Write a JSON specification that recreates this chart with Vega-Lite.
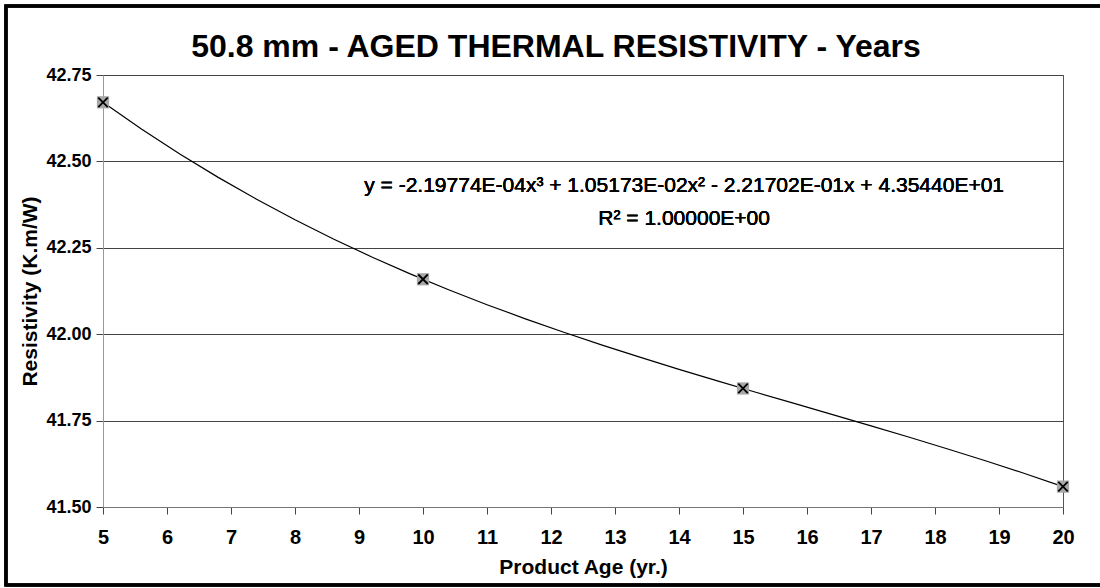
{
  "$schema": "https://vega.github.io/schema/vega-lite/v6.json",
  "autosize": {"type": "none"},
  "width": 960,
  "height": 432,
  "padding": {"left": 103, "top": 75, "right": 37, "bottom": 81},
  "background": "white",
  "config": {
    "font": "Liberation Sans",
    "view": {"stroke": "#555", "strokeWidth": 1}
  },
  "title": {
    "text": "50.8 mm - AGED THERMAL RESISTIVITY - Years",
    "font": "Liberation Sans",
    "fontSize": 32,
    "fontWeight": "bold",
    "color": "black",
    "anchor": "middle",
    "dx": -27,
    "offset": -60
  },
  "data": {
    "values": [
      {"age": 5, "r": 42.671},
      {"age": 10, "r": 42.159},
      {"age": 15, "r": 41.843},
      {"age": 20, "r": 41.559}
    ]
  },
  "encoding": {
    "x": {
      "field": "age",
      "type": "quantitative",
      "scale": {"domain": [5, 20], "nice": false, "zero": false},
      "axis": {
        "title": "Product Age (yr.)",
        "values": [5, 6, 7, 8, 9, 10, 11, 12, 13, 14, 15, 16, 17, 18, 19, 20],
        "format": "d",
        "grid": false,
        "domainColor": "#777",
        "tickColor": "#444",
        "tickSize": 7,
        "labelFont": "Liberation Sans",
        "labelFontSize": 20,
        "labelFontWeight": "bold",
        "labelColor": "black",
        "labelPadding": 13,
        "labelFlush": false,
        "titleFont": "Liberation Sans",
        "titleFontSize": 21,
        "titleFontWeight": "bold",
        "titleColor": "black",
        "titlePadding": 9
      }
    },
    "y": {
      "field": "r",
      "type": "quantitative",
      "scale": {"domain": [41.5, 42.75], "nice": false, "zero": false},
      "axis": {
        "title": "Resistivity (K.m/W)",
        "values": [41.5, 41.75, 42.0, 42.25, 42.5, 42.75],
        "format": ".2f",
        "grid": true,
        "gridColor": "#444",
        "gridWidth": 1,
        "domainColor": "#999",
        "tickColor": "#444",
        "tickSize": 7,
        "labelFont": "Liberation Sans",
        "labelFontSize": 18,
        "labelFontWeight": "bold",
        "labelColor": "black",
        "labelPadding": 5,
        "labelFlush": false,
        "titleFont": "Liberation Sans",
        "titleFontSize": 21,
        "titleFontWeight": "bold",
        "titleColor": "black",
        "titlePadding": 5
      }
    }
  },
  "layer": [
    {
      "transform": [
        {"regression": "r", "on": "age", "method": "poly", "order": 3, "extent": [5, 20]}
      ],
      "mark": {"type": "line", "color": "black", "strokeWidth": 1.2}
    },
    {
      "mark": {"type": "point", "shape": "square", "filled": true, "color": "#a8a8a8", "opacity": 1, "size": 150}
    },
    {
      "mark": {"type": "point", "shape": "M-1,-1L1,1M1,-1L-1,1", "filled": false, "color": "black", "strokeWidth": 1.8, "opacity": 1, "size": 90}
    },
    {
      "mark": {"type": "text", "font": "Liberation Sans", "fontSize": 21, "align": "center", "baseline": "middle", "color": "black"},
      "encoding": {
        "x": {"datum": 14.08},
        "y": {"datum": 42.429},
        "text": {"value": "y = -2.19774E-04x³ + 1.05173E-02x² - 2.21702E-01x + 4.35440E+01"}
      }
    },
    {
      "mark": {"type": "text", "font": "Liberation Sans", "fontSize": 21, "align": "center", "baseline": "middle", "color": "black"},
      "encoding": {
        "x": {"datum": 14.08},
        "y": {"datum": 42.333},
        "text": {"value": "R² = 1.00000E+00"}
      }
    },
    {
      "mark": {"type": "rect", "fill": null, "fillOpacity": 0, "stroke": "black", "strokeWidth": 3},
      "encoding": {
        "x": {"datum": 3.484},
        "x2": {"datum": 20.75},
        "y": {"datum": 42.95},
        "y2": {"datum": 41.274}
      }
    }
  ]
}
